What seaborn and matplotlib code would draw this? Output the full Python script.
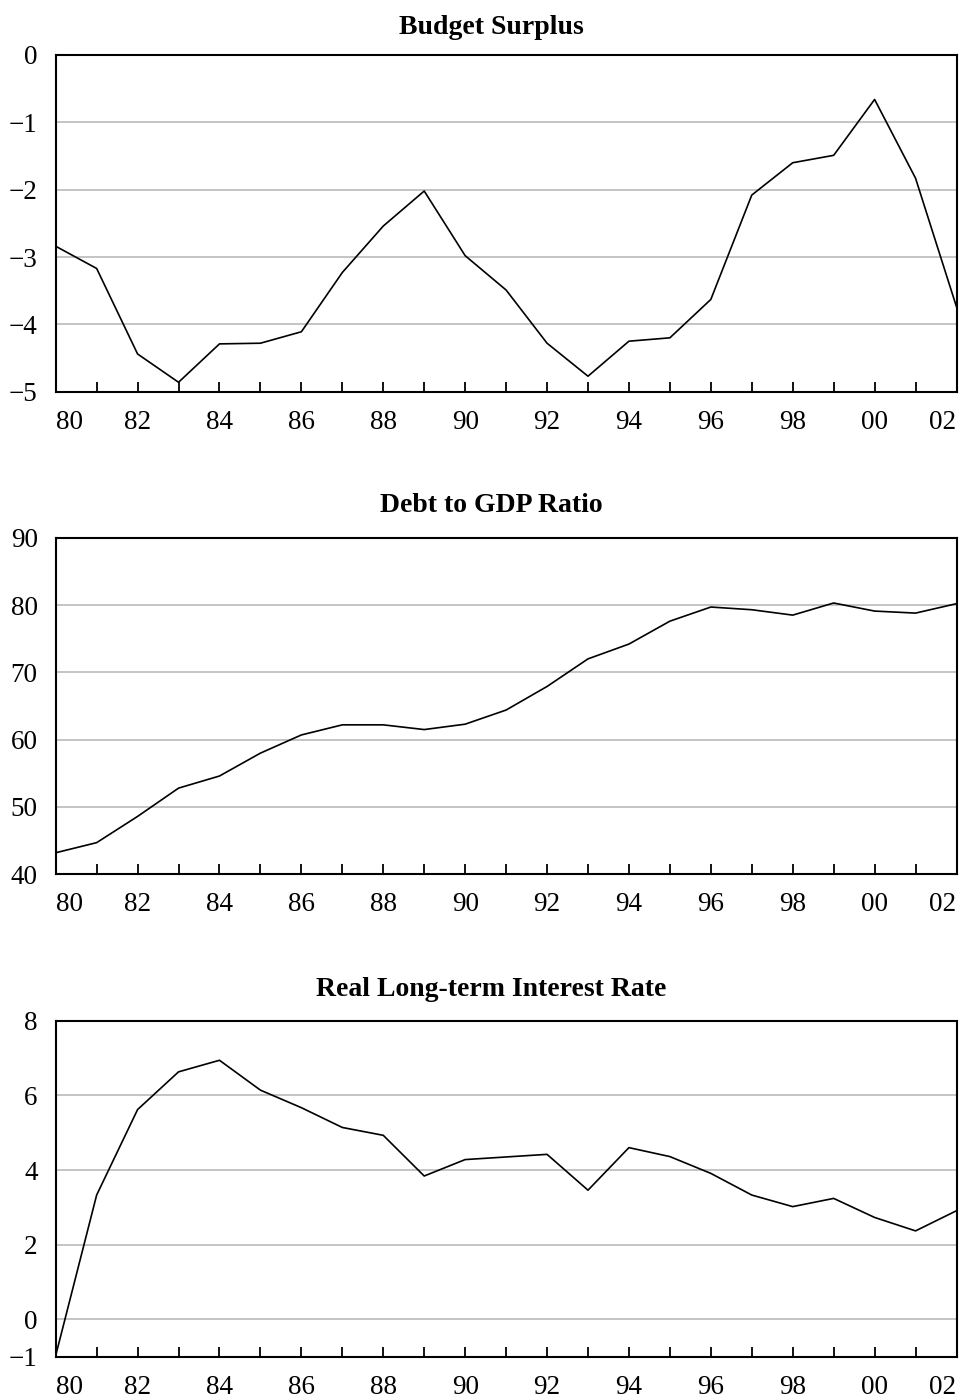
import numpy as np
import pandas as pd
import matplotlib
matplotlib.use("Agg")
import matplotlib.pyplot as plt
import seaborn as sns

years = list(range(1980, 2003))

budget_surplus = [-2.84, -3.17, -4.44, -4.86, -4.29, -4.28, -4.11, -3.23, -2.54, -2.02,
                  -2.98, -3.49, -4.28, -4.77, -4.25, -4.20, -3.63, -2.08, -1.60, -1.49,
                  -0.66, -1.83, -3.74]

debt_to_gdp = [43.2, 44.7, 48.6, 52.8, 54.6, 58.0, 60.7, 62.2, 62.2, 61.5,
               62.3, 64.4, 67.9, 72.0, 74.2, 77.6, 79.7, 79.3, 78.5, 80.3,
               79.1, 78.8, 80.2]

real_rate = [-0.97, 3.33, 5.62, 6.63, 6.94, 6.14, 5.67, 5.14, 4.93, 3.84,
             4.28, 4.35, 4.42, 3.46, 4.60, 4.36, 3.91, 3.33, 3.02, 3.24,
             2.73, 2.37, 2.91]

titles = ["Budget Surplus", "Debt to GDP Ratio", "Real Long-term Interest Rate"]
x_tick_labels = ["80", "", "82", "", "84", "", "86", "", "88", "", "90", "", "92", "",
                 "94", "", "96", "", "98", "", "00", "", "02"]
y_ticks_1 = [0, -1, -2, -3, -4, -5]
y_ticks_2 = [40, 50, 60, 70, 80, 90]
y_ticks_3 = [-1, 0, 2, 4, 6, 8]

sns.set_theme(style="white")
plt.rcParams["font.family"] = ["Liberation Serif", "DejaVu Serif"]
plt.rcParams["axes.unicode_minus"] = True

fig = plt.figure(figsize=(9.63, 13.99), dpi=100)

H = 1399.0
W = 963.0
left = 55.7 / W
width = (956.5 - 55.7) / W
panels = [
    (budget_surplus, y_ticks_1, (-5, 0), 55.0, 391.7, 28.0),
    (debt_to_gdp, y_ticks_2, (40, 90), 537.7, 874.3, 505.0),
    (real_rate, y_ticks_3, (-1, 8), 1020.7, 1356.7, 989.0),
]

for (vals, yt, ylim, top, bot, ty), title in zip(panels, titles):
    ax = fig.add_axes([left, 1 - bot / H, width, (bot - top) / H])
    df = pd.DataFrame({"year": years, "value": vals})
    sns.lineplot(data=df, x="year", y="value", ax=ax, color="black", linewidth=1.2)
    ax.set_xlim(1980, 2002)
    ax.set_ylim(*ylim)
    ax.set_yticks(yt)
    ax.set_yticklabels([("\u2212" + str(abs(v))) if v < 0 else str(v) for v in yt])
    ax.set_xticks(years)
    ax.set_xticklabels(x_tick_labels)
    ax.set_xlabel("")
    ax.set_ylabel("")
    ax.grid(axis="y", color="#c4c4c4", linewidth=1.4)
    ax.grid(axis="x", visible=False)
    ax.set_axisbelow(True)
    for sp in ax.spines.values():
        sp.set_visible(True)
        sp.set_color("black")
        sp.set_linewidth(1.5)
    ax.tick_params(axis="x", direction="in", length=7, width=1.3, color="black",
                   labelsize=19.5, pad=13, bottom=True, top=False)
    ax.tick_params(axis="y", length=0, labelsize=19.5, pad=13, left=False)
    labels = ax.get_xticklabels()
    labels[0].set_horizontalalignment("left")
    labels[-1].set_horizontalalignment("right")
    for lab in ax.get_xticklabels() + ax.get_yticklabels():
        lab.set_color("black")
    fig.text(491 / W, 1 - ty / H, title, ha="center", va="center",
             fontsize=20, fontweight="bold", color="black")

fig.savefig("out.png", dpi=100, facecolor="white")
